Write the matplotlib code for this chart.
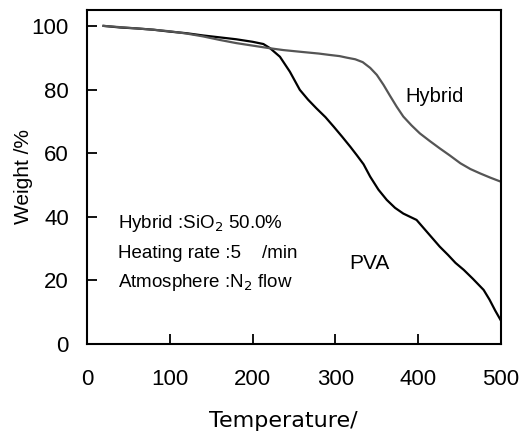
import numpy as np
import matplotlib.pyplot as plt

plt.rcParams['font.family'] = ['Liberation Sans', 'DejaVu Sans']

# PVA TGA curve (temperature, weight %)
pva_t = [20, 40, 60, 80, 100, 120, 140, 160, 180, 200, 213, 221, 233, 245, 257, 267,
         277, 288, 298, 308, 318, 326, 334, 342, 352, 362, 372, 382, 390, 398, 408,
         418, 426, 436, 445, 455, 466, 479, 486, 493, 500]
pva_w = [100, 99.5, 99.2, 98.8, 98.2, 97.7, 97.0, 96.4, 95.8, 95.0, 94.3, 93.0, 90.3,
         85.6, 79.9, 76.8, 74.1, 71.3, 68.3, 65.2, 62.0, 59.3, 56.5, 52.6, 48.5,
         45.3, 42.8, 41.0, 40.0, 39.0, 36.0, 33.0, 30.6, 28.0, 25.5, 23.3, 20.5,
         17.0, 14.0, 10.5, 7.3]

# Hybrid TGA curve
hyb_t = [20, 40, 60, 80, 100, 120, 140, 160, 180, 200, 220, 237, 260, 280, 292, 305,
         314, 324, 333, 342, 350, 358, 366, 374, 382, 392, 402, 414, 426, 438, 451,
         463, 475, 487, 500]
hyb_w = [100, 99.6, 99.2, 98.8, 98.3, 97.6, 96.7, 95.6, 94.6, 93.8, 93.0, 92.4, 91.8,
         91.3, 90.9, 90.5, 90.0, 89.5, 88.6, 86.8, 84.6, 81.5, 78.0, 74.6, 71.5,
         68.7, 66.2, 63.8, 61.5, 59.3, 56.8, 55.0, 53.6, 52.3, 51.0]

fig = plt.figure(figsize=(5.26, 4.34), dpi=100)
ax = fig.add_axes([0.1654, 0.2074, 0.7871, 0.7696])

ax.plot(pva_t, pva_w, color='black', lw=1.6)
ax.plot(hyb_t, hyb_w, color='#555555', lw=1.6)

ax.set_xlim(0, 500)
ax.set_ylim(0, 105)
ax.set_xticks(np.arange(0, 501, 100))
ax.set_yticks(np.arange(0, 101, 20))
ax.tick_params(direction='in', length=7, width=1.3, labelsize=16)
ax.tick_params(axis='x', pad=18)
ax.tick_params(axis='y', pad=13)
for s in ax.spines.values():
    s.set_linewidth(1.5)

ax.set_xlabel('Temperature/', fontsize=16, family='DejaVu Sans')
ax.xaxis.set_label_coords(0.473, -0.2)
ax.set_ylabel('Weight /%', fontsize=15)
ax.yaxis.set_label_coords(-0.13, 0.5)

ax.text(37, 38, 'Hybrid :SiO$_2$ 50.0%', fontsize=13.5, va='center')
ax.text(37, 28.6, 'Heating rate :5    /min', fontsize=13.5, va='center')
ax.text(37, 19.2, 'Atmosphere :N$_2$ flow', fontsize=13.5, va='center')
ax.text(317, 25.4, 'PVA', fontsize=15, va='center')
ax.text(384, 77.7, 'Hybrid', fontsize=14.5, va='center')

fig.savefig('out.png', dpi=100)
